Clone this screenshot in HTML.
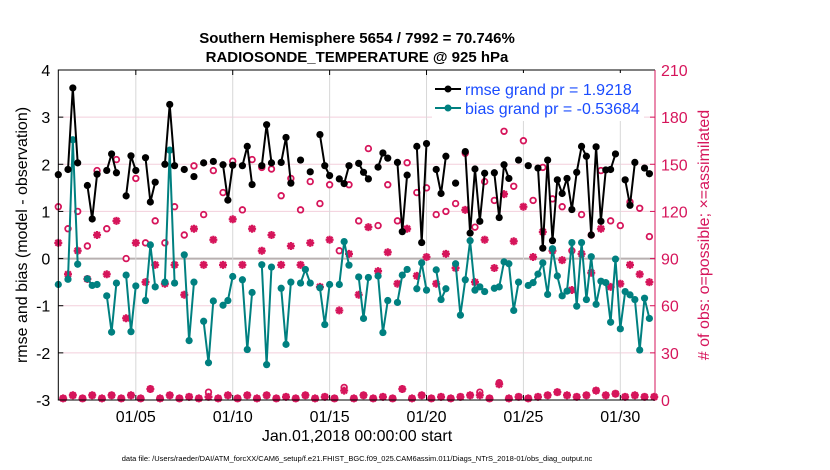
<!DOCTYPE html>
<html><head><meta charset="utf-8"><style>
html,body{margin:0;padding:0;background:#fff;}
svg{display:block;font-family:"Liberation Sans",sans-serif;}
</style></head><body>
<svg id="chart" width="830" height="470" viewBox="0 0 830 470" xmlns="http://www.w3.org/2000/svg">
<text x="357" y="43" text-anchor="middle" font-size="15" font-weight="bold">Southern Hemisphere 5654 / 7992 = 70.746%</text>
<text x="357" y="62" text-anchor="middle" font-size="15" font-weight="bold">RADIOSONDE_TEMPERATURE @ 925 hPa</text>
<g id="grid"></g>
<g id="marks"></g>
<g id="axes"></g>
<text transform="translate(27,235) rotate(-90)" text-anchor="middle" font-size="16">rmse and bias (model - observation)</text>
<text transform="translate(709,235) rotate(-90)" text-anchor="middle" font-size="16" fill="#d6155b"># of obs: o=possible; ×=assimilated</text>
<text x="357" y="441" text-anchor="middle" font-size="16">Jan.01,2018 00:00:00 start</text>
<text x="357" y="461" text-anchor="middle" font-size="7.5">data file: /Users/raeder/DAI/ATM_forcXX/CAM6_setup/f.e21.FHIST_BGC.f09_025.CAM6assim.011/Diags_NTrS_2018-01/obs_diag_output.nc</text>
<g>
<rect x="432" y="73" width="212" height="48" fill="#fff"/>
<line x1="435" y1="89" x2="461" y2="89" stroke="#000" stroke-width="2"/>
<circle cx="448" cy="89" r="3.5" fill="#000"/>
<text x="465" y="95" font-size="16" fill="#1a4cff">rmse grand pr = 1.9218</text>
<line x1="435" y1="108" x2="461" y2="108" stroke="#008080" stroke-width="2"/>
<circle cx="448" cy="108" r="3.5" fill="#008080"/>
<text x="465" y="114" font-size="16" fill="#1a4cff">bias grand pr = -0.53684</text>
</g>
</svg>
<script>
const rmse = [1.78,null,1.89,3.62,2.03,null,1.55,0.84,1.79,null,1.87,2.22,1.82,null,1.33,2.18,1.87,null,2.14,1.2,1.62,null,2.0,3.27,1.97,null,1.89,null,1.74,null,2.03,null,2.06,null,1.99,1.24,1.98,null,1.97,2.38,1.57,null,1.97,2.84,2.03,null,2.04,2.57,1.6,null,2.09,null,1.84,null,2.63,1.97,1.76,null,1.69,1.59,1.97,null,2.02,1.83,1.69,null,1.94,2.24,2.13,null,2.04,0.57,1.77,null,2.38,0.34,2.44,null,1.89,1.38,2.17,null,1.6,null,2.27,0.54,1.9,0.79,1.81,null,1.82,0.87,1.99,1.7,null,2.09,null,1.97,null,1.92,0.22,2.09,0.38,1.67,1.38,1.7,1.04,1.83,2.38,2.17,0.5,2.37,0.79,1.88,1.89,2.22,null,1.67,1.13,2.04,null,1.92,1.8,null];
const bias = [-0.55,null,-0.44,2.52,-0.12,null,-0.43,-0.57,-0.55,null,-0.79,-1.56,-0.52,null,-0.35,-1.55,-0.58,null,-0.89,0.29,-0.6,null,-0.5,2.3,-0.52,null,0.08,-1.74,-0.5,null,-1.33,-2.21,-0.9,null,-0.99,-0.89,-0.38,null,-0.45,-1.93,-0.72,null,-0.13,-2.25,-0.18,null,-0.63,-1.82,-0.5,null,-0.52,-0.23,-0.52,null,-0.62,-1.4,-0.55,null,-0.55,0.36,-0.14,null,-0.39,-1.27,-0.4,null,-0.37,-1.57,-0.89,null,-0.93,-0.35,-0.23,null,-0.64,-0.09,-0.67,null,-0.24,-0.87,-0.64,null,-0.11,-1.2,-0.45,0.38,-0.67,-0.6,-0.7,null,-0.63,-0.6,-0.07,-0.11,-1.1,-0.5,null,-0.57,-0.51,-0.33,-0.09,-0.76,0.21,-0.37,-0.79,-0.69,0.34,-1.01,0.34,-0.87,0.04,-0.97,-0.48,-0.51,-1.35,-0.01,-1.49,-0.7,-0.77,-0.87,-1.94,-0.84,-1.27,null];
const possible = [123,1,109,3,120,1,98,3,146,1,109,3,153,1,90,3,141,1,100,7,114,1,100,3,123,1,105,2,149,1,118,5,146,1,132,3,152,1,121,3,153,1,148,3,147,1,130,2,141,1,121,3,139,1,125,2,137,1,95,8,137,1,114,3,160,1,111,2,137,1,114,7,151,1,132,3,135,1,118,2,120,1,125,2,157,3,110,5,139,1,127,11,171,1,136,2,165,1,127,2,148,3,128,5,123,3,95,2,118,3,105,6,146,3,114,4,111,2,126,3,122,2,104,2];
const assimilated = [100,1,80,3,95,1,77,3,105,1,80,3,114,1,52,3,100,1,75,7,86,1,74,3,86,1,67,2,109,1,86,2,102,1,86,3,115,1,86,3,109,1,95,3,105,1,86,2,98,1,86,3,100,1,72,2,102,1,57,6,93,1,67,3,110,1,82,2,94,1,74,7,109,1,79,3,91,1,74,2,93,1,84,2,121,3,75,3,102,1,84,10,131,1,101,2,123,1,91,2,107,3,95,5,89,3,70,2,93,3,81,6,109,3,72,4,74,2,86,3,80,2,75,2];
const leftTicks = [4,3,2,1,0,-1,-2,-3];
const rightTicks = [0,30,60,90,120,150,180,210];
const xTickDays = [4,9,14,19,24,29];
const xTickLabels = ["01/05","01/10","01/15","01/20","01/25","01/30"];

const NS = "http://www.w3.org/2000/svg";
const PL = 58.3, PR = 655, PT = 70, PB = 400;
const DAYS_PER_SLOT = 0.25, PX_PER_DAY = 19.38;
function xDay(d){ return PL + d*PX_PER_DAY; }
function xSlot(i){ return xDay(i*DAYS_PER_SLOT); }
function yL(v){ return PB - (v - (-3)) / 7 * (PB-PT); }
function yR(n){ return PB - n / 210 * (PB-PT); }
function mk(tag, attrs, parent){ const e=document.createElementNS(NS,tag); for(const k in attrs) e.setAttribute(k,attrs[k]); parent.appendChild(e); return e; }

const grid = document.getElementById('grid');
const marks = document.getElementById('marks');
const axes = document.getElementById('axes');

leftTicks.forEach(t => {
  const y = yL(t);
  const l = mk('line',{x1:PL,x2:PR,y1:y,y2:y,stroke: t===0?'#b8b0b0':'#f3cfdc','stroke-width': t===0?2:1},grid);
  
  
  const tk = mk('line',{x1:PL,x2:PL+5,y1:y,y2:y,stroke:'#000'},axes);
  
  
  const tx = mk('text',{x:PL-8,y:y+6,'text-anchor':'end','font-size':16},axes);
  
  
  tx.textContent = t;
});
rightTicks.forEach(t => {
  const y = yR(t);
  const tk = mk('line',{x1:PR-5,x2:PR,y1:y,y2:y,stroke:'#d6155b'},axes);
  
  
  const tx = mk('text',{x:PR+6,y:y+6,'font-size':16,fill:'#d6155b'},axes);
  
  
  tx.textContent = t;
});
xTickDays.forEach((d,k) => {
  const x = xDay(d);
  const g = mk('line',{x1:x,x2:x,y1:PT,y2:PB,stroke:'#d8d8d8'},grid);
  
  
  const t1 = mk('line',{x1:x,x2:x,y1:PB,y2:PB-5,stroke:'#000'},axes);
  
  
  const t2 = mk('line',{x1:x,x2:x,y1:PT,y2:PT+5,stroke:'#000'},axes);
  
  
  const tx = mk('text',{x:x,y:PB+22,'text-anchor':'middle','font-size':16},axes);
  
  
  tx.textContent = xTickLabels[k];
});
const f1 = mk('path',{d:`M${PR},${PT} L${PL},${PT} L${PL},${PB} L${PR},${PB}`,fill:'none',stroke:'#000','stroke-width':1},axes);


const f2 = mk('line',{x1:PR,x2:PR,y1:PT,y2:PB,stroke:'#d6155b','stroke-width':1},axes);



const RED = '#d6155b';
// obs counts: circles and asterisks
possible.forEach((n,i) => {
  if(n===null) return;
  const c = mk('circle',{cx:xSlot(i),cy:yR(n),r:2.8,fill:'#fff',stroke:RED,'stroke-width':1.8},marks);
  
  
});
assimilated.forEach((n,i) => {
  if(n===null) return;
  const x = xSlot(i), y = yR(n), s = 4, d = 2.9;
  const p = mk('path',{d:`M${x-s},${y}H${x+s}M${x},${y-s}V${y+s}M${x-d},${y-d}L${x+d},${y+d}M${x-d},${y+d}L${x+d},${y-d}`,stroke:RED,'stroke-width':2.2,fill:'none'},marks);
  
  
});
function series(vals, color, name){
  let d = '', pen = false;
  vals.forEach((v,i) => {
    if(v===null){ pen=false; return; }
    d += (pen?'L':'M') + xSlot(i).toFixed(1) + ',' + yL(v).toFixed(1);
    pen = true;
  });
  const line = mk('path',{d:d,fill:'none',stroke:color,'stroke-width':2,'stroke-linejoin':'round'},marks);
  
  
  vals.forEach((v,i) => {
    if(v===null) return;
    const c = mk('circle',{cx:xSlot(i),cy:yL(v),r:3.6,fill:color},marks);
    
    
  });
}
series(bias,'#008080','bias');
series(rmse,'#000000','rmse');
</script>
</body></html>
